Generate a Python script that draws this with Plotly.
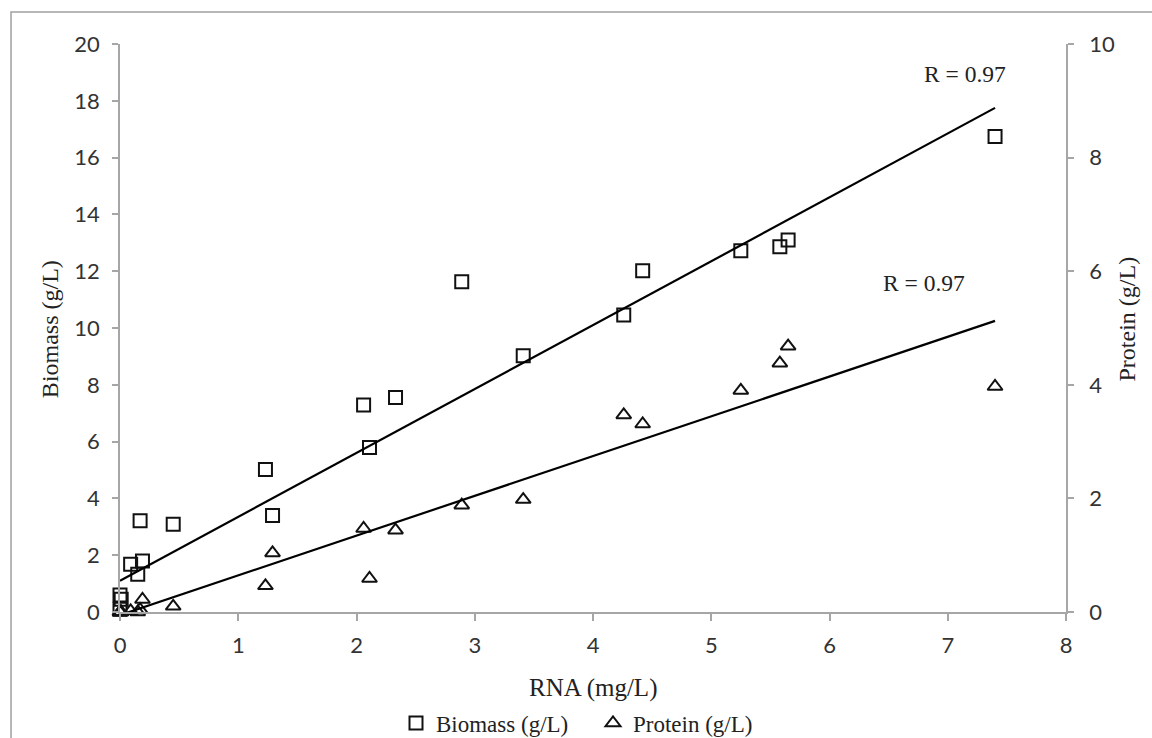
import plotly.graph_objects as go

# RNA concentration (mg/L) for each sample
rna = [0.0, 0.01, 0.0, 0.09, 0.15, 0.19, 0.17, 0.45, 1.23, 1.29, 2.06, 2.11,
       2.33, 2.89, 3.41, 4.26, 4.42, 5.25, 5.58, 5.65, 7.40]
# Biomass (g/L), left axis
biomass = [0.10, 0.45, 0.60, 1.68, 1.33, 1.80, 3.21, 3.09, 5.02, 3.40, 7.29, 5.79,
           7.55, 11.63, 9.02, 10.46, 12.02, 12.72, 12.86, 13.10, 16.74]
# Protein (g/L), right axis
protein = [0.00, 0.00, 0.00, 0.02, 0.00, 0.22, 0.04, 0.10, 0.46, 1.04, 1.47, 0.59,
           1.44, 1.88, 1.98, 3.47, 3.31, 3.90, 4.38, 4.68, 3.97]

# Linear trendlines: [slope, intercept]
biomass_fit = [2.25, 1.10]
protein_fit = [0.70, -0.055]
r_labels = ["R = 0.97", "R = 0.97"]

x_ticks = list(range(0, 9))
y_ticks = list(range(0, 21, 2))
y2_ticks = list(range(0, 11, 2))

AXIS = "#a6a6a6"
SERIF = "Liberation Serif"
SANS = "Lato"
TXT = "#222222"

x_line = [min(rna), max(rna)]

fig = go.Figure()

fig.add_trace(go.Scatter(
    x=rna, y=biomass, mode="markers", name="Biomass (g/L)",
    marker=dict(symbol="square-open", size=13, color="#111111",
                line=dict(width=2, color="#111111")),
    cliponaxis=False, yaxis="y"))

fig.add_trace(go.Scatter(
    x=rna, y=protein, mode="markers", name="Protein (g/L)",
    marker=dict(symbol="triangle-up-open", size=13, color="#111111",
                line=dict(width=2, color="#111111")),
    cliponaxis=False, yaxis="y2"))

fig.add_trace(go.Scatter(
    x=x_line, y=[biomass_fit[0] * v + biomass_fit[1] for v in x_line],
    mode="lines", line=dict(color="#000000", width=2.2),
    showlegend=False, hoverinfo="skip", yaxis="y"))

fig.add_trace(go.Scatter(
    x=x_line, y=[protein_fit[0] * v + protein_fit[1] for v in x_line],
    mode="lines", line=dict(color="#000000", width=2.2),
    showlegend=False, hoverinfo="skip", yaxis="y2", cliponaxis=False))

axis_common = dict(showgrid=False, zeroline=False, showline=True,
                   linecolor=AXIS, linewidth=1.5, ticks="outside",
                   tickcolor=AXIS, tickwidth=1.5,
                   tickfont=dict(family=SANS, size=22, color="#333333"))

fig.update_layout(
    width=1152, height=738,
    margin=dict(l=120, r=86, t=44, b=126, autoexpand=False),
    paper_bgcolor="white", plot_bgcolor="white",
    xaxis=dict(range=[0, 8], tickvals=x_ticks, ticklen=7, ticklabelstandoff=6,
               **axis_common),
    yaxis=dict(range=[0, 20], tickvals=y_ticks, ticklen=6, ticklabelstandoff=8,
               **axis_common),
    yaxis2=dict(range=[0, 10], tickvals=y2_ticks, ticklen=6, ticklabelstandoff=11,
                overlaying="y", side="right", **axis_common),
    showlegend=True,
    legend=dict(orientation="h", x=0.5, xanchor="center", y=-0.1954,
                yanchor="middle", font=dict(family=SERIF, size=23, color=TXT),
                itemwidth=30, tracegroupgap=0, entrywidth=152,
                entrywidthmode="pixels"),
    shapes=[dict(type="rect", xref="paper", yref="paper",
                 x0=-0.1152, y0=-0.4, x1=1.3, y1=1.0563,
                 line=dict(color="#a0a0a0", width=1.5), layer="below")],
    annotations=[
        dict(text="RNA (mg/L)", xref="paper", yref="paper", x=0.5, y=-0.134,
             xanchor="center", yanchor="middle", showarrow=False,
             font=dict(family=SERIF, size=25, color=TXT)),
        dict(text="Biomass (g/L)", xref="paper", yref="paper", x=-0.074, y=0.498,
             xanchor="center", yanchor="middle", showarrow=False, textangle=-90,
             font=dict(family=SERIF, size=24, color=TXT)),
        dict(text="Protein (g/L)", xref="paper", yref="paper", x=1.0645, y=0.515,
             xanchor="center", yanchor="middle", showarrow=False, textangle=-90,
             font=dict(family=SERIF, size=24, color=TXT)),
        dict(text=r_labels[0], x=7.15, y=18.95, xref="x", yref="y",
             xanchor="center", yanchor="middle", showarrow=False,
             font=dict(family=SERIF, size=23.5, color=TXT)),
        dict(text=r_labels[1], x=6.795, y=5.79, xref="x", yref="y2",
             xanchor="center", yanchor="middle", showarrow=False,
             font=dict(family=SERIF, size=23.5, color=TXT)),
    ],
)

fig.write_html("out.html")
